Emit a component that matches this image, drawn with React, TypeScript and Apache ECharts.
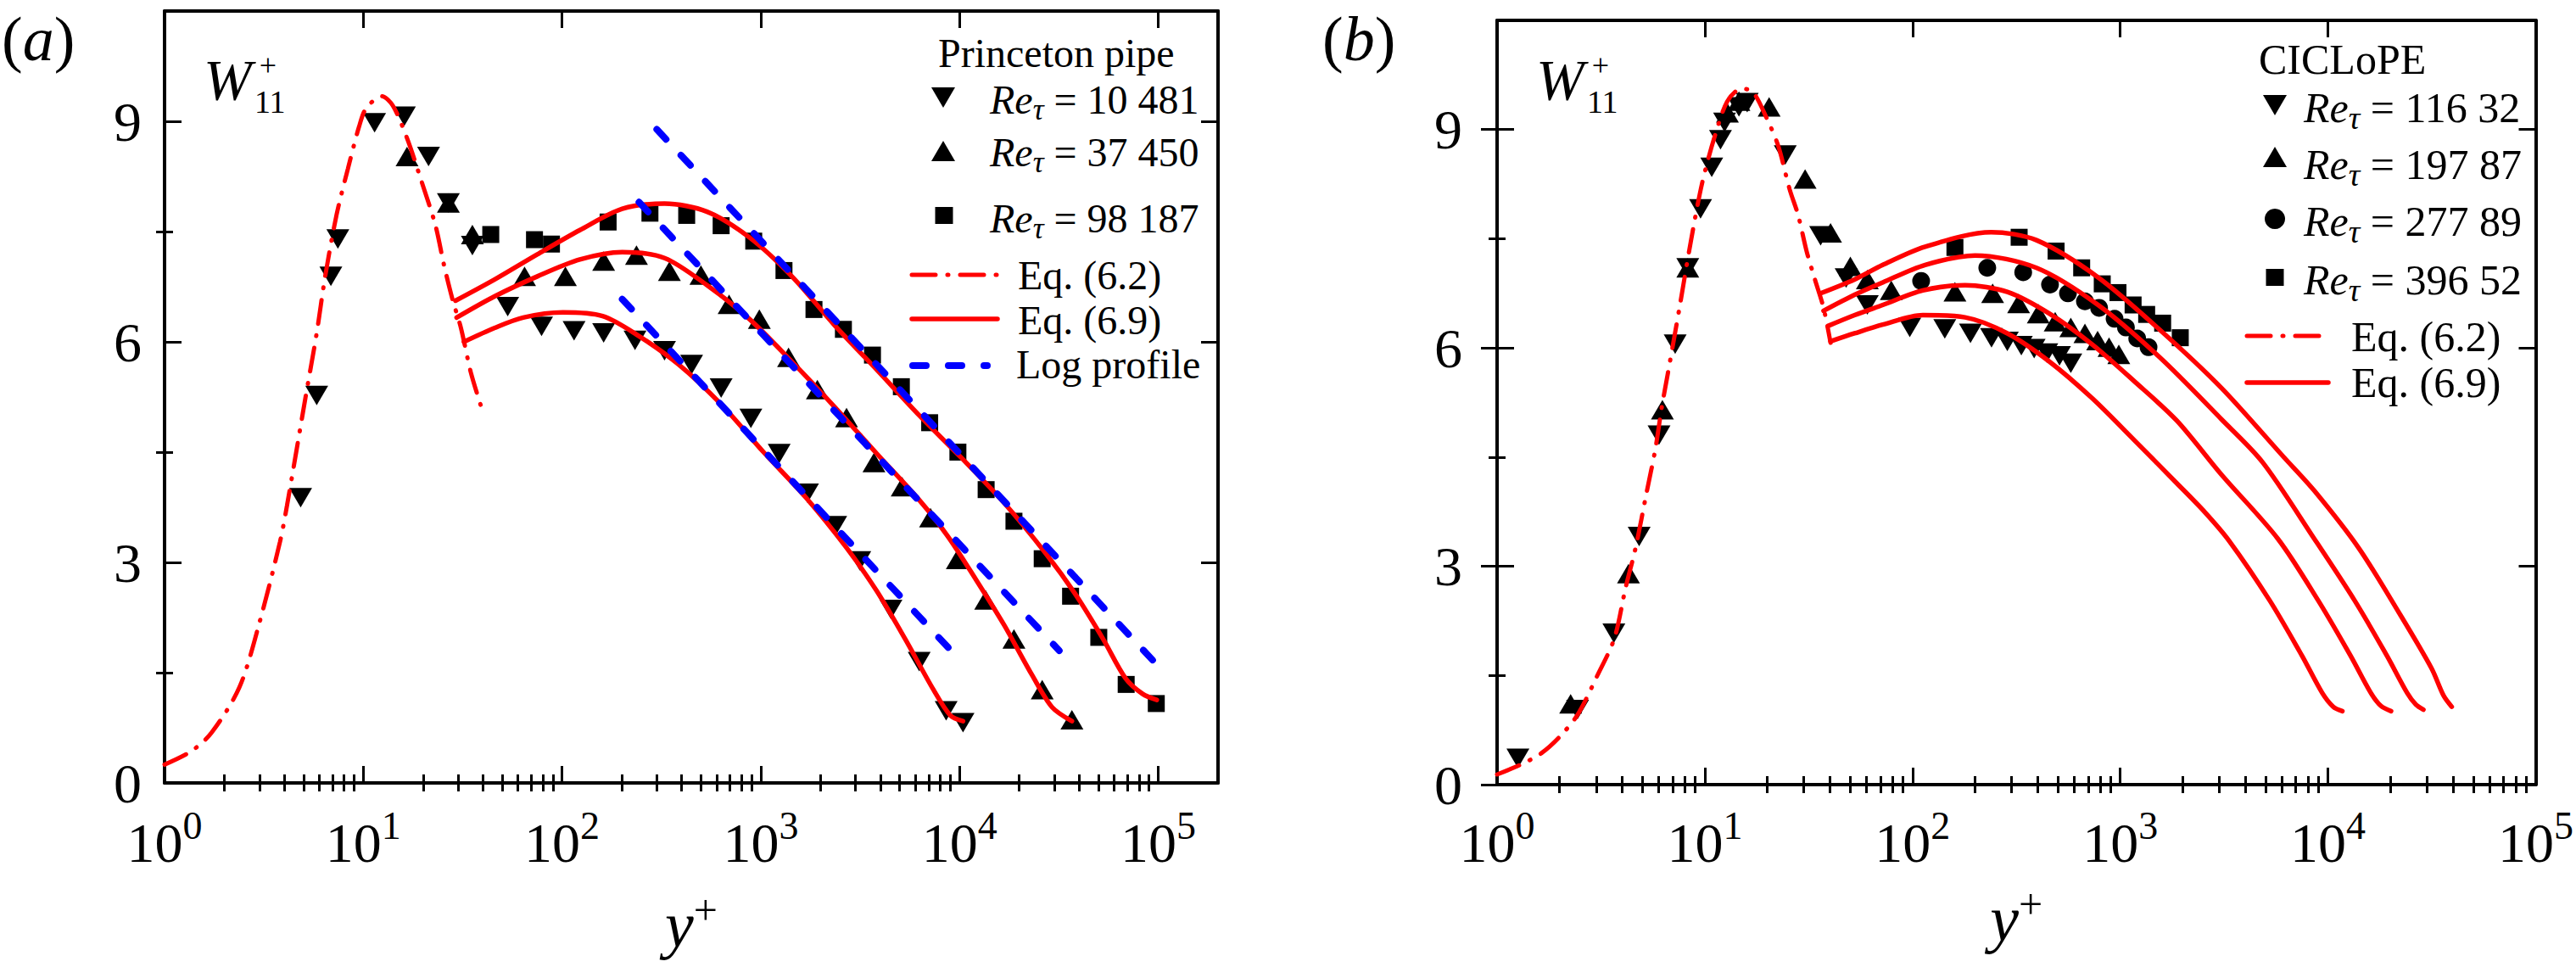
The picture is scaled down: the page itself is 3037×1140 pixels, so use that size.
import React, { useEffect, useRef } from "react";
import * as echarts from "echarts";

type Pt = [number, number];

// ---------- (a) Princeton pipe ----------
const princetonRe10481: Pt[] = [
  [4.84, 3.88], [5.83, 5.27], [6.87, 6.89], [7.45, 7.4], [11.4, 8.98], [16.1, 9.07], [21.3, 8.52],
  [26.8, 7.89], [35.4, 7.31], [53.3, 6.48], [78.9, 6.21], [115, 6.15], [162, 6.12], [233, 6.02],
  [328, 5.88], [449, 5.69], [632, 5.37], [892, 4.96], [1238, 4.48], [1719, 3.94], [2384, 3.5],
  [3150, 3.02], [4520, 2.36], [6270, 1.65], [8570, 0.98], [10420, 0.82],
];
const princetonRe37450: Pt[] = [
  [16.6, 8.52], [26.8, 7.89], [35.4, 7.46], [64.8, 6.89], [104, 6.89], [162, 7.1], [237, 7.18],
  [347, 6.96], [500, 6.91], [693, 6.51], [984, 6.31], [1380, 5.79], [1927, 5.35], [2702, 4.97],
  [3713, 4.36], [5150, 4.03], [7150, 3.61], [9750, 3.04], [13550, 2.49], [18800, 1.96],
  [26080, 1.27], [36800, 0.86],
];
const princetonRe98187: Pt[] = [
  [43.8, 7.46], [72.7, 7.39], [88.5, 7.33], [170.6, 7.63], [277, 7.75], [424, 7.72], [632, 7.58],
  [922, 7.37], [1309, 6.97], [1853, 6.44], [2606, 6.17], [3650, 5.82], [5100, 5.39], [7080, 4.9],
  [9820, 4.5], [13620, 3.99], [18800, 3.56], [26080, 3.05], [36230, 2.54], [50240, 1.98],
  [69000, 1.34], [97800, 1.08],
];

const eq62Princeton: Pt[] = [
  [1, 0.25], [1.36, 0.43], [1.72, 0.68], [2.38, 1.3], [3.01, 2.19], [3.81, 3.28], [4.13, 3.77],
  [5.11, 5.23], [5.83, 6.12], [6.43, 6.89], [7.34, 7.73], [8.36, 8.35], [9.53, 8.93], [10.35, 9.18],
  [12.4, 9.34], [14.1, 9.21], [16.6, 8.77], [19.6, 8.19], [23.1, 7.58], [25.5, 7.04], [28.1, 6.58],
  [31, 6.19], [34.8, 5.58], [39.6, 5.08],
];
const eq69Re10481: Pt[] = [
  [32.1, 6.0], [45.9, 6.19], [63.8, 6.33], [101, 6.4], [160, 6.35], [237, 6.1], [387, 5.69],
  [632, 5.15], [1033, 4.5], [1690, 3.88], [2700, 3.2], [3836, 2.61], [5325, 1.96], [7390, 1.27],
  [8990, 0.92], [10420, 0.84],
];
const eq69Re37450: Pt[] = [
  [29.5, 6.33], [45.9, 6.62], [75.1, 6.89], [123, 7.12], [201, 7.22], [328, 7.14], [537, 6.77],
  [877, 6.31], [1435, 5.73], [2345, 5.12], [3836, 4.48], [6270, 3.85], [8710, 3.36], [12080, 2.77],
  [16760, 2.15], [23270, 1.46], [29250, 1.03], [36800, 0.84],
];
const eq69Re98187: Pt[] = [
  [29.1, 6.56], [45.9, 6.85], [75.1, 7.19], [123, 7.52], [201, 7.81], [328, 7.88], [537, 7.77],
  [877, 7.42], [1435, 6.89], [2345, 6.23], [3836, 5.62], [6270, 5.0], [10250, 4.42], [16760, 3.81],
  [27400, 3.11], [38030, 2.58], [52760, 1.96], [68600, 1.42], [83560, 1.21], [98400, 1.13],
];
const logProfileRe10481: Pt[] = [[201, 6.58], [9290, 1.77]];
const logProfileRe37450: Pt[] = [[244, 7.9], [31770, 1.8]];
const logProfileRe98187: Pt[] = [[300, 8.89], [98400, 1.61]];

// ---------- (b) CICLoPE ----------
const ciclopeRe11632: Pt[] = [
  [1.26, 0.36], [2.44, 1.03], [3.65, 2.08], [4.83, 3.41], [6.02, 4.8], [7.2, 6.05], [8.28, 7.1],
  [9.54, 7.91], [10.8, 8.48], [11.9, 8.86], [12.45, 9.1], [14.6, 9.31], [16, 9.37], [24.4, 8.65],
  [36.1, 7.54], [47.9, 6.96], [60.6, 6.59], [97, 6.28], [143, 6.26], [190, 6.2], [240, 6.14],
  [286, 6.09], [334, 6.03], [385, 5.99], [443, 5.93], [510, 5.89], [578, 5.79],
];
const ciclopeRe19787: Pt[] = [
  [2.26, 1.11], [4.29, 2.9], [6.25, 5.15], [8.28, 7.1], [12.85, 9.23], [14.6, 9.39], [20.4, 9.31],
  [30.4, 8.32], [40.3, 7.58], [50.2, 7.12], [60.6, 6.94], [79, 6.79], [160, 6.77], [243, 6.75],
  [324, 6.61], [403, 6.47], [486, 6.36], [578, 6.28], [676, 6.2], [778, 6.1], [883, 6.01], [984, 5.91],
];
const ciclopeRe27789: Pt[] = [
  [110, 6.92], [229, 7.1], [341, 7.04], [459, 6.87], [560, 6.75], [676, 6.64], [791, 6.55],
  [939, 6.4], [1065, 6.28], [1207, 6.13], [1368, 6.01],
];
const ciclopeRe39652: Pt[] = [
  [160, 7.38], [326, 7.52], [491, 7.33], [652, 7.1], [819, 6.88], [975, 6.76], [1153, 6.59],
  [1340, 6.46], [1600, 6.34], [1945, 6.14],
];

const eq62Ciclope: Pt[] = [
  [1, 0.14], [1.31, 0.28], [1.63, 0.43], [1.99, 0.65], [2.44, 0.96], [3.04, 1.5], [3.67, 2.01],
  [4.16, 2.71], [4.64, 3.25], [5.26, 4.03], [5.78, 4.61], [6.21, 5.19], [6.65, 5.66], [7.55, 6.55],
  [8.55, 7.45], [9.7, 8.26], [11.2, 8.92], [12.85, 9.39], [15, 9.56], [17, 9.52], [19.9, 9.15],
  [22.6, 8.77], [25.6, 8.18], [28.1, 7.83], [30.9, 7.33], [33.9, 6.94], [37.3, 6.55], [40.3, 6.07],
];
const eq69Re11632: Pt[] = [
  [40.3, 6.09], [52.6, 6.2], [71.9, 6.32], [112, 6.45], [179, 6.42], [286, 6.2], [457, 5.81],
  [731, 5.31], [1170, 4.73], [1872, 4.14], [2560, 3.74], [3342, 3.35], [5240, 2.53], [7500, 1.77],
  [9380, 1.26], [10600, 1.07], [11730, 1.01],
];
const eq69Re19787: Pt[] = [
  [39.1, 6.3], [52.6, 6.45], [71.9, 6.59], [112, 6.79], [179, 6.86], [286, 6.77], [457, 6.47],
  [731, 6.05], [1170, 5.54], [1872, 5.0], [3069, 4.26], [5730, 3.38], [8970, 2.53], [12850, 1.77],
  [16080, 1.26], [18000, 1.08], [20130, 1.01],
];
const eq69Re27789: Pt[] = [
  [37.3, 6.51], [52.6, 6.73], [71.9, 6.9], [115, 7.14], [200, 7.27], [395, 7.1], [782, 6.59],
  [1549, 5.87], [3069, 5.02], [4840, 4.43], [8580, 3.38], [13430, 2.53], [19230, 1.77],
  [24050, 1.26], [26500, 1.1], [28790, 1.03],
];
const eq69Re39652: Pt[] = [
  [36.1, 6.75], [52.6, 6.94], [71.9, 7.14], [115, 7.39], [239, 7.59], [395, 7.48], [782, 6.97],
  [1549, 6.25], [3069, 5.45], [6080, 4.51], [8580, 4.04], [14060, 3.25], [21990, 2.36],
  [31490, 1.6], [36060, 1.22], [39430, 1.07],
];

// ticks and legend labels
const decades = [0, 1, 2, 3, 4, 5];
const yMajor = [0, 3, 6, 9];
const yMinor = [1.5, 4.5, 7.5];
const princetonRe = ["10 481", "37 450", "98 187"];
const ciclopeRe = ["116 32", "197 87", "277 89", "396 52"];

const FONT = "Liberation Serif, serif";
const RED = "#ff0000";
const BLUE = "#0000ff";
const solidRed = { color: RED, width: 5.5, type: "solid", cap: "round" };
const dashDotRed = { color: RED, width: 5, type: [28, 14, 1, 14], cap: "round" };
const dashedBlue = { color: BLUE, width: 8, type: [16, 26], cap: "round" };

const tickLine = { color: "#000", width: 3 };
const frameLine = { show: true, onZero: false, lineStyle: { color: "#000", width: 4 } };

const minorDecadeTicks = (top: number) => {
  const out: number[] = [];
  for (let d = 0; d < Math.ceil(top); d++) {
    for (let k = 2; k <= 9; k++) {
      const v = d + Math.log10(k);
      if (v < top - 1e-6) out.push(v);
    }
  }
  return out;
};

const buildXAxes = (grid: number, maxValue: number, labelMargin: number, nameGap: number) => {
  const top = Math.log10(maxValue);
  const minor = minorDecadeTicks(top);
  const base = { gridIndex: grid, type: "value", min: 0, max: top, splitLine: { show: false } };
  const major = { show: true, inside: true, length: 20, customValues: decades, lineStyle: tickLine };
  const small = { show: true, inside: true, length: 10, customValues: minor, lineStyle: tickLine };
  return [
    { gridIndex: grid, type: "log", logBase: 10, min: 1, max: maxValue, show: false, splitLine: { show: false } },
    {
      ...base,
      position: "bottom",
      axisLine: frameLine,
      axisTick: major,
      axisLabel: {
        show: true,
        customValues: decades,
        margin: labelMargin,
        fontFamily: FONT,
        formatter: (v: number) => `{b|10}{s|${Math.round(v)}}`,
        rich: {
          b: { fontSize: 66, fontFamily: FONT, color: "#000", lineHeight: 76, verticalAlign: "bottom" },
          s: { fontSize: 46, fontFamily: FONT, color: "#000", lineHeight: 46, verticalAlign: "top" },
        },
      },
      name: "{i|y}{s|+}",
      nameLocation: "middle",
      nameGap,
      nameTextStyle: {
        fontFamily: FONT,
        rich: {
          i: { fontSize: 76, fontFamily: FONT, fontStyle: "italic", color: "#000", lineHeight: 80, verticalAlign: "bottom" },
          s: { fontSize: 50, fontFamily: FONT, color: "#000", lineHeight: 50, verticalAlign: "top" },
        },
      },
    },
    { ...base, position: "bottom", axisLine: { show: false }, axisTick: small, axisLabel: { show: false } },
    { ...base, position: "top", axisLine: frameLine, axisTick: major, axisLabel: { show: false } },
    { ...base, position: "top", axisLine: { show: false }, axisTick: small, axisLabel: { show: false } },
  ];
};

const buildYAxes = (grid: number, labelMargin: number, crossTicks: boolean) => {
  const base = { gridIndex: grid, type: "value", min: 0, max: 10.5, splitLine: { show: false } };
  const major = { show: true, inside: true, length: 20, customValues: yMajor, lineStyle: tickLine };
  const small = { show: true, inside: true, length: 10, customValues: yMinor, lineStyle: tickLine };
  const axes: any[] = [
    {
      ...base,
      position: "left",
      axisLine: frameLine,
      axisTick: major,
      axisLabel: { show: true, customValues: yMajor, margin: labelMargin, fontSize: 66, fontFamily: FONT, color: "#000" },
    },
    { ...base, position: "left", axisLine: { show: false }, axisTick: small, axisLabel: { show: false } },
    { ...base, position: "right", axisLine: frameLine, axisTick: major, axisLabel: { show: false } },
    { ...base, position: "right", axisLine: { show: false }, axisTick: small, axisLabel: { show: false } },
  ];
  if (crossTicks) {
    axes.push({
      ...base,
      position: "left",
      axisLine: { show: false },
      axisTick: { show: true, inside: false, length: 19, customValues: yMajor, lineStyle: tickLine },
      axisLabel: { show: false },
    });
  }
  return axes;
};

const reName = (n: string) => `Reτ = ${n}`;

const scatter = (name: string, data: Pt[], symbol: string, rotate: number, size: any, xi: number, yi: number) => ({
  type: "scatter",
  name,
  data,
  symbol,
  symbolRotate: rotate,
  symbolSize: size,
  xAxisIndex: xi,
  yAxisIndex: yi,
  itemStyle: { color: "#000", opacity: 1 },
  z: 2,
});

const curve = (name: string, data: Pt[], lineStyle: any, xi: number, yi: number, z: number) => ({
  type: "line",
  name,
  data,
  symbol: "none",
  showSymbol: false,
  smooth: 0.3,
  lineStyle,
  xAxisIndex: xi,
  yAxisIndex: yi,
  z,
});

const TRI: [number, number] = [27, 23];

const legendRich = (size: number) => ({
  i: { fontSize: size, fontFamily: FONT, fontStyle: "italic", fill: "#000", lineHeight: size + 12, verticalAlign: "middle" },
  t: { fontSize: Math.round(size * 0.75), fontFamily: FONT, fontStyle: "italic", fill: "#000", lineHeight: Math.round(size * 0.75), verticalAlign: "bottom" },
  n: { fontSize: size, fontFamily: FONT, fill: "#000", lineHeight: size + 12, verticalAlign: "middle" },
});

const text = (x: number, y: number, t: string, size: number, extra: any = {}) => ({
  type: "text",
  x,
  y,
  silent: true,
  style: { text: t, fontSize: size, fontFamily: FONT, fill: "#000", align: "left", verticalAlign: "middle", ...extra },
});

const marker = (kind: string, cx: number, cy: number) => {
  if (kind === "down")
    return { type: "polygon", silent: true, shape: { points: [[cx - 14, cy - 12], [cx + 14, cy - 12], [cx, cy + 12]] }, style: { fill: "#000" } };
  if (kind === "up")
    return { type: "polygon", silent: true, shape: { points: [[cx - 14, cy + 12], [cx + 14, cy + 12], [cx, cy - 12]] }, style: { fill: "#000" } };
  if (kind === "square")
    return { type: "rect", silent: true, shape: { x: cx - 10.5, y: cy - 10, width: 21, height: 20 }, style: { fill: "#000" } };
  return { type: "circle", silent: true, shape: { cx, cy, r: 12 }, style: { fill: "#000" } };
};

const sample = (x1: number, x2: number, y: number, color: string, width: number, dash: number[] | null) => ({
  type: "line",
  silent: true,
  shape: { x1, y1: y, x2, y2: y },
  style: { stroke: color, lineWidth: width, lineDash: dash || undefined, lineCap: "round" },
});

const panelLabel = (x: number, letter: string) =>
  text(x, 46, `{p|(}{i|${letter}}{p|)}`, 74, {
    rich: {
      p: { fontSize: 74, fontFamily: FONT, fill: "#000" },
      i: { fontSize: 74, fontFamily: FONT, fontStyle: "italic", fill: "#000" },
    },
  });

// W with a stacked superscript "+" and subscript "11"
const wLabel = (x: number) => [
  text(x, 94, "W", 68, { fontStyle: "italic" }),
  text(x + 76, 77, "+", 36, { align: "center" }),
  text(x + 60, 120, "11", 38),
];

const App: React.FC = () => {
  const chartRef = useRef<HTMLDivElement>(null);

  useEffect(() => {
    if (!chartRef.current) return;
    const chart = echarts.init(chartRef.current, undefined, { renderer: "svg" });

    const graphic: any[] = [
      panelLabel(2, "a"),
      panelLabel(1559, "b"),
      ...wLabel(240),
      ...wLabel(1811),
      // legend (a)
      text(1106, 62, "Princeton pipe", 48),
      marker("down", 1112, 115),
      marker("up", 1112, 178),
      marker("square", 1113, 254),
      ...princetonRe.map((n, i) =>
        text(1167, [117, 179, 257][i], `{i|Re}{t|τ}{n| = ${n}}`, 48, { rich: legendRich(48) })
      ),
      sample(1075, 1176, 324, RED, 5, [28, 14, 1, 14]),
      text(1200, 324, "Eq. (6.2)", 48),
      sample(1075, 1176, 376, RED, 5.5, null),
      text(1200, 377, "Eq. (6.9)", 48),
      sample(1076, 1164, 431, BLUE, 8, [16, 26]),
      text(1198, 429, "Log profile", 48),
      // legend (b)
      text(2663, 70, "CICLoPE", 50),
      marker("down", 2682, 124),
      marker("up", 2682, 185),
      marker("circle", 2682, 258),
      marker("square", 2682, 327),
      ...ciclopeRe.map((n, i) =>
        text(2716, [127, 194, 261, 330][i], `{i|Re}{t|τ}{n| = ${n}}`, 50, { rich: legendRich(50) })
      ),
      sample(2649, 2745, 396, RED, 5, [28, 14, 1, 14]),
      text(2772, 397, "Eq. (6.2)", 50),
      sample(2649, 2745, 451, RED, 5.5, null),
      text(2772, 451, "Eq. (6.9)", 50),
    ];

    const series: any[] = [
      // (a): x axis 0, y axis 0
      scatter(reName(princetonRe[0]), princetonRe10481, "triangle", 180, TRI, 0, 0),
      scatter(reName(princetonRe[1]), princetonRe37450, "triangle", 0, TRI, 0, 0),
      scatter(reName(princetonRe[2]), princetonRe98187, "rect", 0, 20, 0, 0),
      curve("Eq. (6.2)", eq62Princeton, dashDotRed, 0, 0, 3),
      curve("Eq. (6.9)", eq69Re10481, solidRed, 0, 0, 3),
      curve("Eq. (6.9)", eq69Re37450, solidRed, 0, 0, 3),
      curve("Eq. (6.9)", eq69Re98187, solidRed, 0, 0, 3),
      curve("Log profile", logProfileRe10481, dashedBlue, 0, 0, 4),
      curve("Log profile", logProfileRe37450, dashedBlue, 0, 0, 4),
      curve("Log profile", logProfileRe98187, dashedBlue, 0, 0, 4),
      // (b): x axis 5, y axis 4
      scatter(reName(ciclopeRe[0]), ciclopeRe11632, "triangle", 180, TRI, 5, 4),
      scatter(reName(ciclopeRe[1]), ciclopeRe19787, "triangle", 0, TRI, 5, 4),
      scatter(reName(ciclopeRe[2]), ciclopeRe27789, "circle", 0, 21, 5, 4),
      scatter(reName(ciclopeRe[3]), ciclopeRe39652, "rect", 0, 20, 5, 4),
      curve("Eq. (6.2)", eq62Ciclope, dashDotRed, 5, 4, 3),
      curve("Eq. (6.9)", eq69Re11632, solidRed, 5, 4, 3),
      curve("Eq. (6.9)", eq69Re19787, solidRed, 5, 4, 3),
      curve("Eq. (6.9)", eq69Re27789, solidRed, 5, 4, 3),
      curve("Eq. (6.9)", eq69Re39652, solidRed, 5, 4, 3),
    ];

    const option: any = {
      animation: false,
      backgroundColor: "#fff",
      textStyle: { fontFamily: FONT },
      grid: [
        { left: 194, top: 13, width: 1242, height: 910 },
        { left: 1765, top: 24, width: 1226, height: 901 },
      ],
      xAxis: [...buildXAxes(0, 200000, 27, 125), ...buildXAxes(1, 100000, 25, 116)],
      yAxis: [...buildYAxes(0, 27, false), ...buildYAxes(1, 41, true)],
      series,
      graphic,
    };

    chart.setOption(option);

    const handleResize = () => chart.resize();
    window.addEventListener("resize", handleResize);
    return () => {
      window.removeEventListener("resize", handleResize);
      chart.dispose();
    };
  }, []);

  return (
    <div
      ref={chartRef}
      style={{ position: "fixed", left: 0, top: 0, width: "3037px", height: "1140px", background: "#fff" }}
    />
  );
};

export default App;
